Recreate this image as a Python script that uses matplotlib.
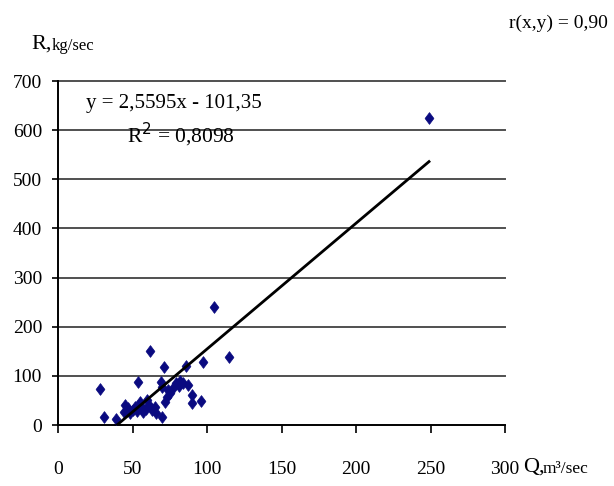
import numpy as np
import matplotlib.pyplot as plt
from matplotlib.path import Path

# water discharge Q (m3/sec) and sediment discharge R (kg/sec)
Q = [28, 31, 39, 44, 45, 47, 48, 50, 52, 53, 54, 55, 56, 57, 59, 60, 61, 62, 63,
     65, 66, 69, 70, 70, 71, 72, 73, 74, 75, 77, 79, 81, 82, 84, 86, 87, 90, 90,
     96, 97, 105, 115, 249]
R = [73, 16, 12, 27, 41, 35, 24, 31, 37, 28, 88, 47, 38, 27, 33, 51, 40, 150, 30,
     37, 25, 88, 16, 77, 118, 47, 57, 71, 65, 75, 85, 80, 90, 85, 120, 82, 61, 45,
     48, 129, 240, 138, 624]

# linear trend as given by the equation on the chart
slope = 2.5595
intercept = -101.35
r2_text = "0,8098"
r_text = "0,90"

x_ticks = [0, 50, 100, 150, 200, 250, 300]
y_ticks = [0, 100, 200, 300, 400, 500, 600, 700]

W, H = 614, 486
fig = plt.figure(figsize=(W / 100, H / 100), dpi=100)
plt.rcParams['font.family'] = ['Liberation Serif', 'DejaVu Serif']


def fx(px):
    return px / W


def fy(py):
    return 1 - py / H


ax = fig.add_axes([fx(58), fy(425), (505 - 58) / W, (425 - 81) / H])

ax.set_xlim(0, 300)
ax.set_ylim(0, 700)
ax.set_xticks(x_ticks)
ax.set_yticks(y_ticks)
ax.tick_params(axis='x', direction='out', length=6, width=1.2, pad=20, labelsize=14)
ax.tick_params(axis='y', direction='out', length=4.5, width=1.2, pad=7, labelsize=14)

for s in ['top', 'right']:
    ax.spines[s].set_visible(False)
for s in ['left', 'bottom']:
    ax.spines[s].set_linewidth(1.4)
    ax.spines[s].set_color('black')

# horizontal grid
for yv in y_ticks[1:]:
    ax.axhline(yv, color='#505050', lw=1.4, zorder=1, clip_on=False)

# diamond marker, a bit taller than wide
diamond = Path([(0, 1), (0.75, 0), (0, -1), (-0.75, 0), (0, 1)],
               [Path.MOVETO, Path.LINETO, Path.LINETO, Path.LINETO, Path.CLOSEPOLY])
ax.scatter(Q, R, marker=diamond, s=72, color='#0a0a80', edgecolors='#0a0a80',
           linewidths=0.5, zorder=3)

xl = np.array([min(Q), max(Q)])
ax.plot(xl, slope * xl + intercept, color='black', lw=2, zorder=4)

ax.text(0.26, 0.935, "y = 2,5595x - 101,35", transform=ax.transAxes,
        ha='center', va='center', fontsize=15)
ax.text(0.275, 0.843, "R$^2$ = " + r2_text, transform=ax.transAxes,
        ha='center', va='center', fontsize=15.5)

fig.text(fx(31), fy(44), "R,", fontsize=16, ha='left', va='center')
fig.text(fx(52), fy(46), "kg/sec", fontsize=12, ha='left', va='center')
fig.text(fx(608), fy(23), "r(x,y) = " + r_text, fontsize=14, ha='right', va='center')
fig.text(fx(523), fy(467), "Q,", fontsize=16, ha='left', va='center')
fig.text(fx(543), fy(469), "m³/sec", fontsize=12.5, ha='left', va='center')

fig.savefig("out.png", dpi=100)
